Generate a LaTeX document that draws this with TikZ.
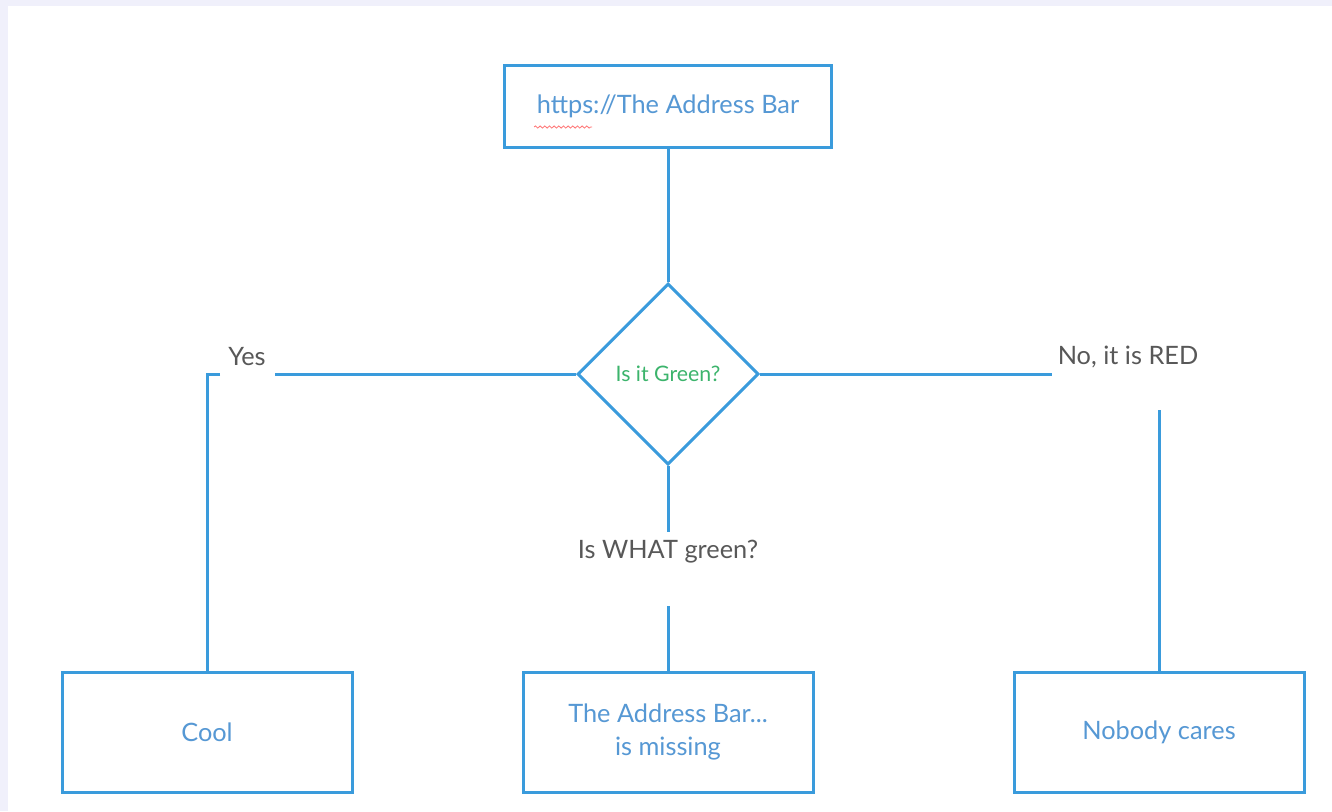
\documentclass[tikz,border=0pt]{standalone}
\usepackage{fontspec}
\setmainfont{Lato}
\usetikzlibrary{shapes.geometric, positioning, decorations.pathmorphing}

\definecolor{linkblue}{RGB}{58,155,220}
\definecolor{boxtext}{RGB}{86,152,212}
\definecolor{greentext}{RGB}{60,180,108}
\definecolor{labelgrey}{RGB}{88,88,88}
\definecolor{pagebg}{RGB}{240,240,251}

\begin{document}
\begin{tikzpicture}[
    x=0.75pt, y=-0.75pt,
    font=\fontsize{19}{23}\selectfont,
    box/.style={draw=linkblue, line width=2.25pt, minimum width=217.5pt, minimum height=90pt, align=center, text=boxtext, fill=white},
    decision/.style={diamond, draw=linkblue, line width=2.25pt, minimum size=135.75pt, inner sep=0pt, aspect=1, text=greentext, font=\fontsize{16}{19}\selectfont},
    link/.style={draw=linkblue, line width=2.25pt},
    label_text/.style={text=labelgrey, inner sep=0pt}
]

    % Page
    \useasboundingbox (0,0) rectangle (1332,811);
    \fill[pagebg] (0,0) rectangle (1332,811);
    \fill[white] (8,6) rectangle (1332,811);

    % Nodes
    \node[box, minimum width=245.25pt, minimum height=61.5pt] (url) at (668,106) {https://The Address Bar};
    \node[decision] (dia) at (668,374) {Is it Green?};
    \node[box] (cool) at (207,732) {Cool};
    \node[box] (missing) at (668,732) {The Address Bar...\\[2pt]is missing};
    \node[box] (nobody) at (1159,732) {Nobody cares};

    % spell-check squiggle under https
    \draw[red!55, line width=0.6pt, decorate, decoration={snake, amplitude=0.8pt, segment length=3.5pt}] (534,127) -- (592,127);

    % Labels
    \node[label_text] (yes) at (247,357) {Yes};
    \node[label_text] (no) at (1128,357) {No, it is RED};
    \node[label_text] (what) at (668,552) {Is WHAT green?};

    % Break points around the labels
    \coordinate (yesR) at (275,374);
    \coordinate (yesL) at (220,374);
    \coordinate (noL) at (1052,374);
    \coordinate (noB) at (1159,410);
    \coordinate (whatT) at (668,532);
    \coordinate (whatB) at (668,606);

    % Connectors
    \draw[link] (url) -- (dia);
    \draw[link] (dia.west) -- (yesR);
    \draw[link] (yesL) -| (cool.north);
    \draw[link] (dia.east) -- (noL);
    \draw[link] (noB) -- (nobody.north);
    \draw[link] (dia.south) -- (whatT);
    \draw[link] (whatB) -- (missing.north);

\end{tikzpicture}
\end{document}
